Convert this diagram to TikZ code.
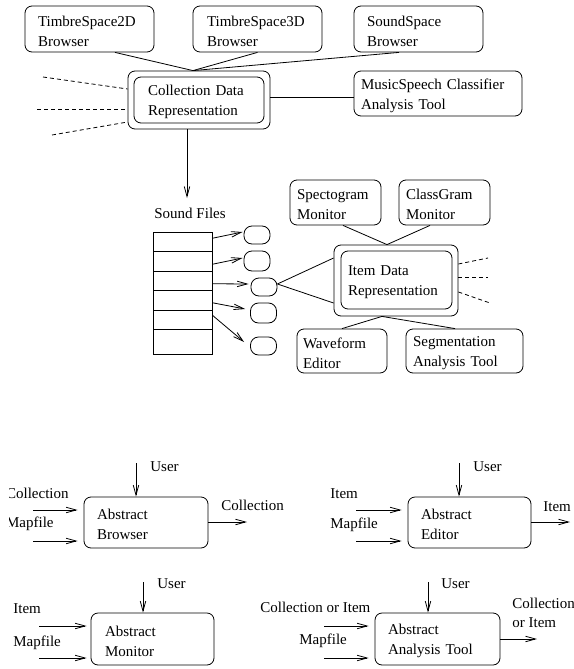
\documentclass[tikz,border=0pt]{standalone}
\usepackage{fontspec}
\setmainfont{Liberation Serif}
\usetikzlibrary{arrows.meta}
\newcommand\mytopstrut{\rule{0pt}{14.5pt}}
\begin{document}
\begin{tikzpicture}[x=1pt,y=-1pt, line width=0.8pt,
  every node/.style={font=\fontsize{15}{20}\selectfont},
  rbox/.style={draw, rounded corners=7pt, align=left, inner ysep=0pt},
  lbl/.style={inner sep=0pt, anchor=base west},
  lble/.style={inner sep=0pt, anchor=base east},
  oval/.style={draw, rounded corners=8pt, minimum width=26pt, minimum height=19pt, inner sep=0pt},
  cell/.style={draw, minimum width=59pt, inner sep=0pt},
  arr/.style={-{Straight Barb[length=10pt,width=5.5pt]}},
  dsh/.style={dash pattern=on 4pt off 3pt}]
\useasboundingbox (0,0) rectangle (573,669);

% ---------- top: collection level ----------
\node[rbox, text width=103pt, inner xsep=13pt, minimum height=46pt] (ts2d) at (89.5,29) {\mytopstrut TimbreSpace2D\\Browser};
\node[rbox, text width=101pt, inner xsep=14pt, minimum height=46pt] (ts3d) at (257.5,29) {\mytopstrut TimbreSpace3D\\Browser};
\node[rbox, text width=103pt, inner xsep=13pt, minimum height=46pt] (ss) at (418.5,29) {\mytopstrut SoundSpace\\Browser};
\node[rbox, text width=154pt, inner xsep=7pt, minimum height=45pt] (ms) at (438,93.5) {\mytopstrut MusicSpeech Classifier\\Analysis Tool};
\node[rbox, minimum width=142pt, minimum height=58pt] (cdr) at (199,100) {};
\node[rbox, text width=102pt, inner xsep=14pt, minimum height=46pt] (cdri) at (199,100) {\mytopstrut Collection Data\\Representation};

\draw ([xshift=25.5pt]ts2d.south) -- ([xshift=-6pt]cdr.north);
\draw (ts3d.south) -- ([xshift=-6pt]cdr.north);
\draw ([xshift=-19.5pt]ss.south) -- ([xshift=-6pt]cdr.north);
\draw ([yshift=3pt]cdr.east) -- ([yshift=3pt]cdr.east -| ms.west);

\coordinate (dl1) at (43,77);
\coordinate (dl2) at (37,109);
\coordinate (dl3) at (52,135);
\draw[dsh] (dl1) -- ([yshift=11pt]cdr.west);
\draw[dsh] (dl2) -- ([yshift=-9pt]cdr.west);
\draw[dsh] (dl3) -- ([yshift=-22pt]cdr.west);

\coordinate (sfa) at (187,198);
\draw[arr] ([xshift=-12pt]cdr.south) -- (sfa);

% ---------- sound files ----------
\node[lbl] (sf) at (154,218) {Sound Files};
\node[cell, minimum height=19.5pt] (r1) at (182.5,241.75) {};
\node[cell, minimum height=19.5pt] (r2) at (182.5,261.25) {};
\node[cell, minimum height=19.5pt] (r3) at (182.5,280.75) {};
\node[cell, minimum height=19.5pt] (r4) at (182.5,300.25) {};
\node[cell, minimum height=19.5pt] (r5) at (182.5,319.75) {};
\node[cell, minimum height=24.5pt] (r6) at (182.5,341.75) {};

\node[oval, minimum height=18pt] (o1) at (257,235) {};
\node[oval, minimum height=20pt] (o2) at (257,261) {};
\node[oval, minimum height=18pt] (o3) at (264,287) {};
\node[oval, minimum height=20pt] (o4) at (263.5,313) {};
\node[oval, minimum height=18pt] (o5) at (263.5,346) {};

\draw[arr] ([yshift=3.5pt]r1.east) -- ([xshift=-1pt,yshift=3pt]o1.west);
\draw[arr] ([yshift=-3pt]r2.east) -- ([xshift=-1pt,yshift=3pt]o2.west);
\draw[arr] ([yshift=-3pt]r3.east) -- ([xshift=-2pt,yshift=3pt]o3.west);
\draw[arr] ([yshift=-2.5pt]r4.east) -- ([xshift=-5pt,yshift=4pt]o4.west);
\draw[arr] ([yshift=4.5pt]r5.east) -- ([xshift=-6pt,yshift=4pt]o5.west);

% ---------- item level ----------
\node[rbox, minimum width=124pt, minimum height=71pt] (idr) at (396,280.5) {};
\node[rbox, text width=97pt, inner xsep=7pt, minimum height=58pt] (idri) at (396.5,280) {\mytopstrut Item Data\\Representation};
\node[rbox, text width=77pt, inner xsep=7pt, minimum height=45pt] (spec) at (335.5,202.5) {\mytopstrut Spectogram\\Monitor};
\node[rbox, text width=77pt, inner xsep=7pt, minimum height=45pt] (cg) at (444.5,202.5) {\mytopstrut ClassGram\\Monitor};
\node[rbox, text width=78pt, inner xsep=6pt, minimum height=44pt] (wf) at (342,351) {\mytopstrut Waveform\\Editor};
\node[rbox, text width=103pt, inner xsep=7pt, minimum height=44pt] (seg) at (464.5,351) {\mytopstrut Segmentation\\Analysis Tool};

\draw ([yshift=3pt]o3.east) -- ([yshift=22.5pt]idr.west);
\draw ([yshift=3pt]o3.east) -- ([yshift=-22.5pt]idr.west);
\draw ([xshift=7.5pt]spec.south) -- ([xshift=-9pt]idr.north);
\draw ([xshift=-14.5pt]cg.south) -- ([xshift=-9pt]idr.north);
\draw ([xshift=-14pt]idr.south) -- (wf.north);
\draw ([xshift=-14pt]idr.south) -- ([xshift=-9.5pt]seg.north);

\coordinate (dr1) at (488,258);
\coordinate (dr2) at (488,277);
\coordinate (dr3) at (490,303);
\draw[dsh] ([yshift=16.5pt]idr.east) -- (dr1);
\draw[dsh] ([yshift=3.5pt]idr.east) -- (dr2);
\draw[dsh] ([yshift=-11.5pt]idr.east) -- (dr3);

% ---------- abstract browser ----------
\node[rbox, text width=98pt, inner xsep=13pt, minimum height=51pt] (ab) at (146,522.5) {\mytopstrut Abstract\\Browser};
\coordinate (bu) at (136,463);
\coordinate (bi1) at (33,510);
\coordinate (bi2) at (33,541);
\coordinate (bo) at (247,522);
\draw[arr] (bu) -- (bu |- ab.north);
\draw[arr, shorten >=6pt] (bi1) -- (bi1 -| ab.west);
\draw[arr, shorten >=6pt] (bi2) -- (bi2 -| ab.west);
\draw[arr] (ab.east |- bo) -- (bo);
\node[lbl] (bul) at (150,471) {User};
\begin{scope}
\clip (9,470) rectangle (90,540);
\node[lble] (bil1) at (69,498) {Collection};
\node[lble] (bil2) at (54,527) {Mapfile};
\end{scope}
\node[lbl] (bol) at (221,510) {Collection};

% ---------- abstract editor ----------
\node[rbox, text width=97pt, inner xsep=13pt, minimum height=51pt] (ae) at (469.5,522.5) {\mytopstrut Abstract\\Editor};
\coordinate (eu) at (459,463);
\coordinate (ei1) at (356,510);
\coordinate (ei2) at (356,541);
\coordinate (eo) at (570,522);
\draw[arr] (eu) -- (eu |- ae.north);
\draw[arr, shorten >=6pt] (ei1) -- (ei1 -| ae.west);
\draw[arr, shorten >=6pt] (ei2) -- (ei2 -| ae.west);
\draw[arr] (ae.east |- eo) -- (eo);
\node[lbl] (eul) at (473,471) {User};
\node[lbl] (eil1) at (330,498) {Item};
\node[lbl] (eil2) at (330,528) {Mapfile};
\node[lbl] (eol) at (543,511) {Item};

% ---------- abstract monitor ----------
\node[rbox, text width=95pt, inner xsep=14pt, minimum height=52pt] (am) at (152.5,639) {\mytopstrut Abstract\\Monitor};
\coordinate (mu) at (143,582);
\coordinate (mi1) at (39,626);
\coordinate (mi2) at (39,658);
\draw[arr] (mu) -- (mu |- am.north);
\draw[arr, shorten >=4pt] (mi1) -- (mi1 -| am.west);
\draw[arr, shorten >=4pt] (mi2) -- (mi2 -| am.west);
\node[lbl] (mul) at (157,588) {User};
\node[lbl] (mil1) at (13,613) {Item};
\node[lbl] (mil2) at (13,646) {Mapfile};

% ---------- abstract analysis tool ----------
\node[rbox, text width=99pt, inner xsep=13pt, minimum height=52pt] (aa) at (437.5,639) {\mytopstrut Abstract\\Analysis Tool};
\coordinate (au) at (428,582);
\coordinate (ai1) at (324,626);
\coordinate (ai2) at (324,658);
\coordinate (ao) at (537,639);
\draw[arr] (au) -- (au |- aa.north);
\draw[arr, shorten >=6pt] (ai1) -- (ai1 -| aa.west);
\draw[arr, shorten >=6pt] (ai2) -- (ai2 -| aa.west);
\draw[arr] (aa.east |- ao) -- (ao);
\node[lbl] (aul) at (441,588) {User};
\node[lbl] (ail1) at (260,612) {Collection or Item};
\node[lbl] (ail2) at (299,644) {Mapfile};
\node[lbl] (aol1) at (512,608) {Collection};
\node[lbl] (aol2) at (512,627) {or Item};
\end{tikzpicture}
\end{document}
